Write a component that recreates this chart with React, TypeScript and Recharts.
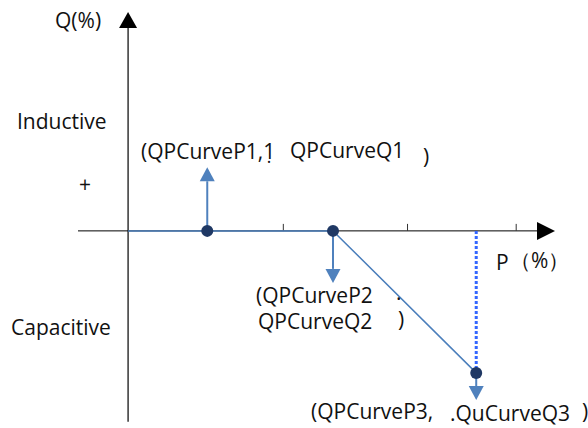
import { ComposedChart, Line, XAxis, YAxis, ReferenceLine } from "recharts";

// P/Q curve break points (P in %, Q in %)
const curvePoints = [
  { p: 0, q: 0, dot: false },
  { p: 20.4, q: 0, dot: true },
  { p: 52.8, q: 0, dot: true },
  { p: 89.7, q: -36.6, dot: true },
];
const pTicks = [40, 72, 100];
// direction arrows at each curve point: from q0 to q1
const pointArrows = [
  { p: 20.4, q0: 0, q1: 16.4 },
  { p: 52.8, q0: 0, q1: -13.4 },
  { p: 89.7, q0: -36.6, q1: -43.6 },
];
// the stray mark under the "1" is kept as a combining dot below
const labels = [
  { text: "Q(%)", x: 55, y: 20 },
  { text: "Inductive", x: 17, y: 121 },
  { text: "+", x: 79, y: 184 },
  { text: "(QPCurveP1,1\u0323", x: 141, y: 151 },
  { text: "QPCurveQ1", x: 290, y: 150 },
  { text: ")", x: 423, y: 156 },
  { text: "(QPCurveP2", x: 256, y: 295 },
  { text: ".", x: 396, y: 292 },
  { text: "QPCurveQ2", x: 258, y: 321 },
  { text: ")", x: 398, y: 319 },
  { text: "Capacitive", x: 11, y: 327 },
  { text: "P", x: 496, y: 262 },
  { text: "（%）", x: 510, y: 260 },
  { text: "(QPCurveP3,", x: 311, y: 411 },
  { text: ".QuCurveQ3", x: 450, y: 413 },
  { text: ")", x: 582, y: 411 },
];

const X_DOMAIN = [-33, 118.5];
const Y_DOMAIN = [-50.8, 59.5];
const BLUE = "#4a7ebb";

function ArrowShape(props: any) {
  const { x1, y1, x2, y2, color, width, head, headW } = props;
  const dx = x2 - x1;
  const dy = y2 - y1;
  const len = Math.sqrt(dx * dx + dy * dy) || 1;
  const ux = dx / len;
  const uy = dy / len;
  const bx = x2 - ux * head;
  const by = y2 - uy * head;
  const nx = -uy * headW / 2;
  const ny = ux * headW / 2;
  return (
    <g>
      <line x1={x1} y1={y1} x2={bx} y2={by} stroke={color} strokeWidth={width} />
      <polygon
        points={`${x2},${y2} ${bx + nx},${by + ny} ${bx - nx},${by - ny}`}
        fill={color}
      />
    </g>
  );
}

function TickShape(props: any) {
  const { x1, y1, x2, y2 } = props;
  return <line x1={x1} y1={y1} x2={x2} y2={y2} stroke="#333" strokeWidth={1} />;
}

function CurveDot(props: any) {
  const { cx, cy, payload } = props;
  if (!payload.dot) return <g />;
  return <circle cx={cx} cy={cy} r={6} fill="#1f3864" />;
}

export default function App() {
  return (
    <div
      style={{
        position: "absolute",
        left: 0,
        top: 0,
        width: 588,
        height: 428,
        background: "#fff",
        fontFamily: "'Open Sans', sans-serif",
      }}
    >
      <ComposedChart
        width={588}
        height={428}
        data={curvePoints}
        margin={{ top: 0, right: 0, bottom: 0, left: 0 }}
      >
        <XAxis dataKey="p" type="number" domain={X_DOMAIN} hide allowDataOverflow />
        <YAxis type="number" domain={Y_DOMAIN} hide allowDataOverflow />
        {/* Q axis */}
        <ReferenceLine
          segment={[{ x: 0, y: -49.2 }, { x: 0, y: 56.4 }]}
          shape={(p: any) => <ArrowShape {...p} color="#000" width={1.2} head={16} headW={18} />}
        />
        {/* P axis */}
        <ReferenceLine
          segment={[{ x: -12.9, y: 0 }, { x: 110, y: 0 }]}
          shape={(p: any) => <ArrowShape {...p} color="#000" width={1} head={18} headW={18} />}
        />
        {pTicks.map((t) => (
          <ReferenceLine
            key={t}
            segment={[{ x: t, y: 0 }, { x: t, y: 1.8 }]}
            shape={(p: any) => <TickShape {...p} />}
          />
        ))}
        <ReferenceLine
          segment={[{ x: 89.7, y: 0 }, { x: 89.7, y: -36.6 }]}
          stroke="#3366ff"
          strokeWidth={3}
          strokeDasharray="3 2"
        />
        {pointArrows.map((a) => (
          <ReferenceLine
            key={a.p}
            segment={[{ x: a.p, y: a.q0 }, { x: a.p, y: a.q1 }]}
            shape={(p: any) => <ArrowShape {...p} color="#4f81bd" width={2} head={14} headW={15} />}
          />
        ))}
        <Line
          dataKey="q"
          type="linear"
          stroke={BLUE}
          strokeWidth={1.5}
          dot={<CurveDot />}
          activeDot={false}
          isAnimationActive={false}
        />
      </ComposedChart>
      {labels.map((l, i) => (
        <span
          key={i}
          style={{
            position: "absolute",
            left: l.x,
            top: l.y,
            transform: "translateY(-50%)",
            fontSize: 21,
            lineHeight: 1,
            color: "#111",
            whiteSpace: "nowrap",
          }}
        >
          {l.text}
        </span>
      ))}
    </div>
  );
}
